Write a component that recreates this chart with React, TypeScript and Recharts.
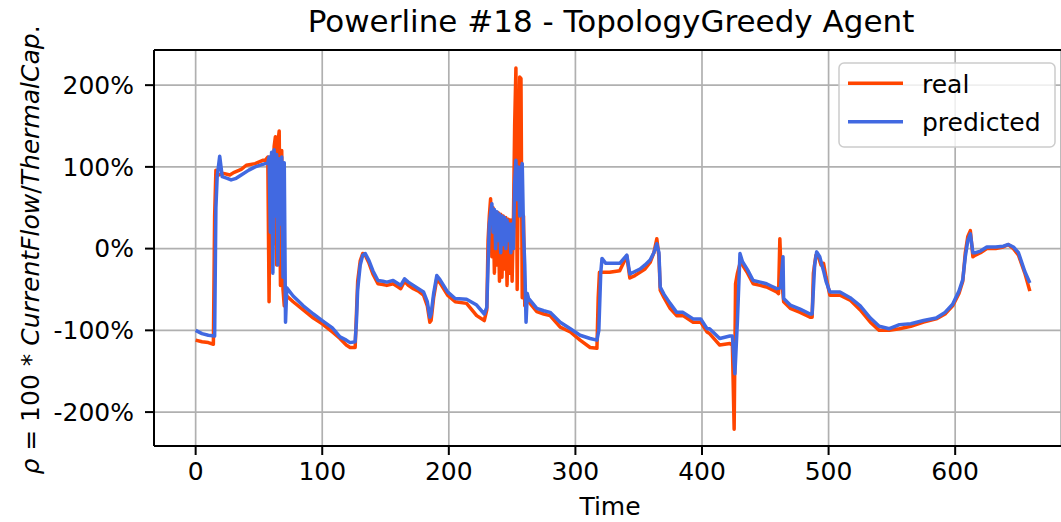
import React from 'react';
import { LineChart, Line, XAxis, YAxis, CartesianGrid, ReferenceLine } from 'recharts';

const xTicks = [0, 100, 200, 300, 400, 500, 600];
const yTicks = [-200, -100, 0, 100, 200];

const realTime = [
  0, 5, 10, 14, 15, 16, 18, 22, 27, 30, 36, 40, 47, 53, 55, 57,
  58, 59, 60, 61, 62, 63, 64, 65, 66, 67, 68, 69, 70, 71, 72,
  77, 85, 93, 100, 108, 114, 119, 122, 126, 127, 128, 130, 132, 134, 137, 140, 144, 148, 151, 156, 160, 162, 165, 168, 172, 176, 180, 183, 185, 186, 188, 190.5, 193, 199, 205, 214, 222, 228,
  230, 231, 232, 233, 234, 235, 236, 237, 238, 239, 240, 241, 242, 243, 244, 245, 246, 247, 248, 249, 250, 251, 252, 253, 254, 255, 256, 257, 258, 259, 260, 261, 262,
  263, 269.5, 275, 280, 288, 296, 303.7, 311.6, 317, 318, 319, 321, 327, 335, 340.6, 343, 347, 351, 355, 359, 362, 364.3, 366, 367, 370, 374.8, 380, 385, 393, 399, 404, 406, 414, 422, 424,
  425.4, 426.5, 428, 430, 432, 436, 440.4, 446, 451, 455, 459, 460.5, 461.5, 462.5, 464.5, 469.7, 477.5, 485.4, 487, 488, 490, 492, 494, 496, 498, 501, 509,
  517, 525, 533, 540, 548, 556, 565, 575, 585, 592, 598, 603, 606, 608, 610, 612, 614, 616, 620, 625, 632, 638, 642, 646, 650, 655, 659,
];
const realValue = [
  -112, -114, -115, -117, 40, 96, 90, 92, 90, 93, 97, 102, 104, 108, 108, 112,
  -65, 100, 115, 5, 125, 137, -20, 130, 144, -45, 120, -50, -70, -55, -58,
  -65, -75, -85, -92, -102, -110, -118, -121, -121, -80, -40, -15, -6, -8, -18, -31, -43, -44, -45, -43, -47, -49, -40, -45, -49, -52, -57, -70, -90, -88, -60, -37, -42, -57, -65, -67, -82, -88,
  -75, 10, 40, 61, -10, 50, -30, 45, -20, 44, -40, 42, -35, 40, -25, 38, -45, 36, -30, 35, -40, 30, 150, 221, -50, 100, 210, 208, -60, 40, -70, -58, -60,
  -65, -77, -80, -82, -96, -102, -112, -121, -122, -60, -29, -29, -29, -27, -9, -36, -33, -29, -25, -17, -5, 12, -10, -51, -60, -73, -82, -82, -90, -90, -102, -104, -118, -116, -118,
  -221, -43, -30, -18, -20, -30, -43, -45, -47, -50, -53, -55, 12, -30, -65, -73, -78, -84, -84, -30, -8, -10, -20, -18, -35, -57, -57,
  -63, -75, -90, -100, -100, -98, -95, -90, -86, -80, -70, -55, -40, -5, 15, 22, -10, -8, -5, 0, 0, 2, 5, 0, -8, -30, -52,
];

const predTime = [
  0, 5, 10, 15, 16, 17, 19, 21, 25, 28, 32, 36, 42, 47, 53, 57,
  58, 59, 60, 61, 62, 63, 64, 65, 66, 67, 68, 69, 70, 71, 72,
  77, 85, 93, 100, 108, 114, 119, 122, 126, 127, 128, 130, 132, 134, 137, 140, 144, 148, 151, 156, 160, 162, 165, 168, 172, 176, 180, 183, 185, 186, 188, 190.5, 193, 199, 205, 214, 222, 228,
  230, 231, 232, 234, 235, 236, 237, 238, 239, 240, 241, 242, 243, 244, 245, 246, 247, 248, 249, 250, 251, 252, 253, 254, 255, 256, 257, 258, 259, 260, 261, 262,
  263, 269.5, 275, 280, 288, 296, 303.7, 311.6, 317, 318.5, 320, 321, 324, 327, 335, 340.6, 343, 347, 351, 355, 359, 362, 364.3, 366, 367, 370, 374.8, 380, 385, 393, 399, 404, 406, 414, 422, 424,
  426, 428, 430, 432, 436, 440.4, 446, 451, 455, 459, 462, 464, 464.5, 469.7, 477.5, 485.4, 487, 489, 490.6, 493, 496, 498, 501, 509,
  517, 525, 533, 540, 548, 556, 565, 575, 585, 592, 598, 603, 606, 608, 610, 612, 614, 616, 620, 625, 632, 638, 642, 646, 650, 655, 659,
];
const predValue = [
  -100, -104, -106, -107, 50, 88, 113, 88, 86, 84, 86, 90, 96, 100, 103, 105,
  112, 20, 118, -30, 121, 40, 115, -20, 110, 30, 112, -35, 105, -90, -48,
  -58, -70, -80, -88, -97, -108, -112, -115, -114, -90, -50, -20, -8, -6, -15, -27, -39, -40, -41, -39, -43, -45, -37, -41, -45, -49, -53, -65, -84, -80, -55, -33, -38, -53, -61, -62, -69, -80,
  -72, -20, 30, 55, 20, 48, 0, 45, 10, 42, -5, 40, 5, 38, 0, 35, 10, 30, -5, 30, 0, 80, 108, 60, 100, 40, 95, 104, 20, -20, -90, -55,
  -61, -73, -76, -78, -90, -98, -106, -110, -112, -100, -30, -12, -18, -18, -18, -8, -31, -28, -25, -20, -14, -5, 6, -5, -47, -56, -67, -78, -78, -86, -86, -98, -98, -110, -107, -107,
  -153, -88, -6, -16, -26, -39, -41, -43, -46, -49, -48, -10, -61, -69, -74, -80, -80, -20, -4, -10, -27, -40, -53, -53,
  -60, -70, -85, -95, -98, -93, -92, -88, -85, -78, -68, -52, -38, -10, 10, 18, -5, -5, -3, 2, 2, 3, 5, 2, -5, -28, -42,
];

const realData = realTime.map((t, i) => ({ t, v: realValue[i] }));
const predData = predTime.map((t, i) => ({ t, v: predValue[i] }));

const W = 1061;
const H = 522;
const FONT = 'DejaVu Sans';
const tickStyle = { fill: '#000', fontSize: 25, fontFamily: FONT };
const spine = { stroke: '#000', strokeWidth: 2 };

export default function App() {
  return (
    <div style={{ position: 'absolute', left: 0, top: 0, width: W, height: H, overflow: 'hidden', background: '#fff' }}>
      <LineChart width={W} height={H} margin={{ top: 50, right: 0, bottom: 0, left: 0 }}>
        <CartesianGrid stroke="#b0b0b0" strokeWidth={1.7} />
        <XAxis
          type="number"
          dataKey="t"
          domain={[-32.9, 683.6]}
          ticks={xTicks}
          interval={0}
          allowDataOverflow
          height={76}
          tickSize={9}
          tickMargin={7}
          axisLine={spine}
          tickLine={spine}
          tick={tickStyle}
        />
        <YAxis
          type="number"
          domain={[-241.5, 243]}
          ticks={yTicks}
          interval={0}
          allowDataOverflow
          width={154}
          tickSize={9}
          tickMargin={11}
          axisLine={spine}
          tickLine={spine}
          tick={tickStyle}
          tickFormatter={(v: number) => `${v}%`}
        />
        <ReferenceLine y={243} stroke="#000" strokeWidth={2} ifOverflow="visible" />
        <Line data={realData} dataKey="v" type="linear" stroke="#ff4500" strokeWidth={3.5} strokeLinejoin="round" dot={false} activeDot={false} isAnimationActive={false} />
        <Line data={predData} dataKey="v" type="linear" stroke="#4169e1" strokeWidth={3.5} strokeLinejoin="round" dot={false} activeDot={false} isAnimationActive={false} />
      </LineChart>
      <svg width={W} height={H} style={{ position: 'absolute', left: 0, top: 0, pointerEvents: 'none' }} fontFamily={FONT}>
        <text x={611} y={32} fontSize={31} textAnchor="middle" fill="#000">Powerline #18 - TopologyGreedy Agent</text>
        <text x={610} y={515} fontSize={25} textAnchor="middle" fill="#000">Time</text>
        <text x={39} y={250} fontSize={25} textAnchor="middle" fill="#000" transform="rotate(-90 39 250)">
          <tspan fontStyle="italic">ρ</tspan>
          <tspan> = 100 * </tspan>
          <tspan fontStyle="italic">CurrentFlow</tspan>
          <tspan>/</tspan>
          <tspan fontStyle="italic">ThermalCap</tspan>
          <tspan>.</tspan>
        </text>
        <rect x={839} y={63} width={216} height={84} rx={5} ry={5} fill="#fff" fillOpacity={0.8} stroke="#cccccc" strokeWidth={1.5} />
        <line x1={848} y1={83.3} x2={903} y2={83.3} stroke="#ff4500" strokeWidth={3.5} />
        <line x1={848} y1={121.7} x2={903} y2={121.7} stroke="#4169e1" strokeWidth={3.5} />
        <text x={922} y={93} fontSize={25} fill="#000">real</text>
        <text x={922} y={131} fontSize={25} fill="#000">predicted</text>
      </svg>
    </div>
  );
}
